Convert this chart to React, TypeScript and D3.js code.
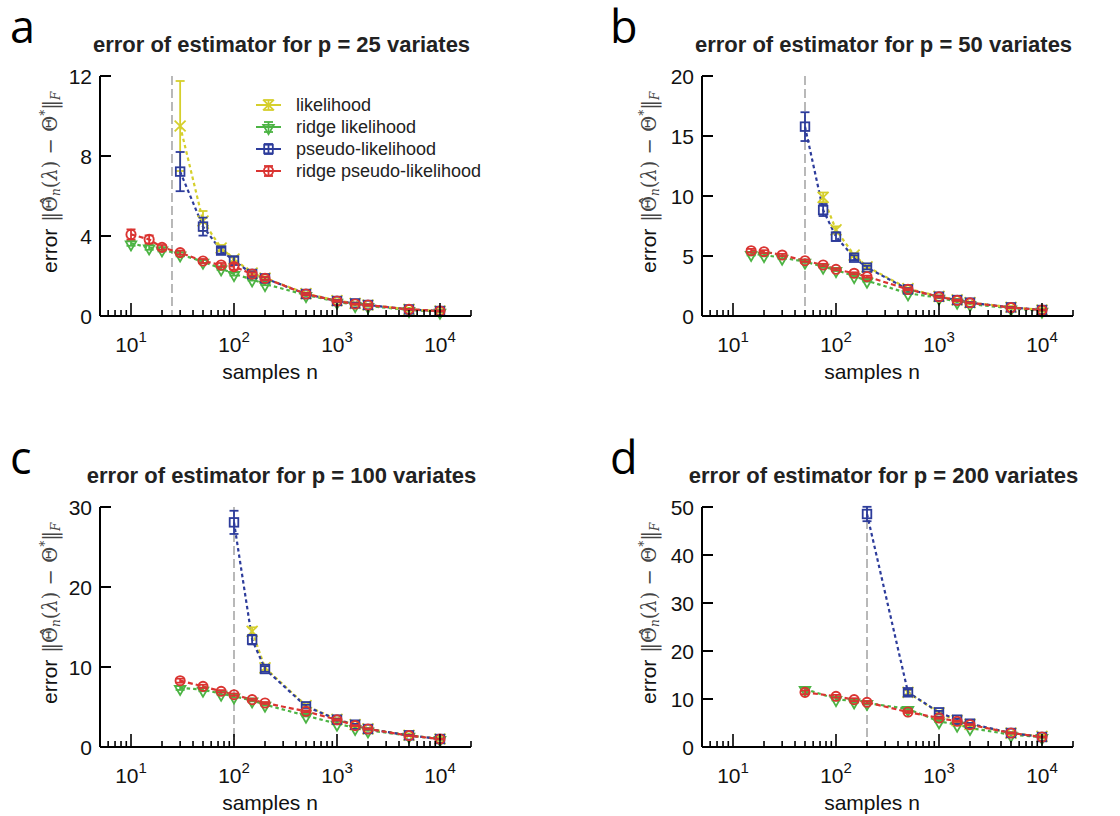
import React from "react";
import * as d3 from "d3";

// sample sizes per panel
const A_N = [10, 15, 20, 30, 50, 75, 100, 150, 200, 500, 1000, 1500, 2000, 5000, 10000];
const A_N_PL = [30, 50, 75, 100, 150, 200, 500, 1000, 1500, 2000, 5000, 10000];
const B_N = [15, 20, 30, 50, 75, 100, 150, 200, 500, 1000, 1500, 2000, 5000, 10000];
const B_N_PL = [50, 75, 100, 150, 200, 500, 1000, 1500, 2000, 5000, 10000];
const B_N_LIK = [75, 100, 150, 200, 500, 1000, 1500, 2000, 5000, 10000];
const C_N = [30, 50, 75, 100, 150, 200, 500, 1000, 1500, 2000, 5000, 10000];
const C_N_PL = [100, 150, 200, 500, 1000, 1500, 2000, 5000, 10000];
const C_N_LIK = [150, 200, 500, 1000, 1500, 2000, 5000, 10000];
const D_N = [50, 100, 150, 200, 500, 1000, 1500, 2000, 5000, 10000];
const D_N_PL = [200, 500, 1000, 1500, 2000, 5000, 10000];
const D_N_LIK = [500, 1000, 1500, 2000, 5000, 10000];

// panel a, p = 25
const A_LIK = [9.5, 4.75, 3.4, 2.85, 2.15, 1.9, 1.12, 0.77, 0.63, 0.55, 0.33, 0.25];
const A_LIK_ERR = [2.25, 0.5, 0.15, 0.12, 0.08, 0.07, 0.05, 0.04, 0.03, 0.03, 0.02, 0.02];
const A_PL = [7.22, 4.47, 3.27, 2.77, 2.1, 1.88, 1.1, 0.75, 0.63, 0.55, 0.33, 0.25];
const A_PL_ERR = [0.98, 0.45, 0.15, 0.2, 0.1, 0.08, 0.06, 0.05, 0.04, 0.03, 0.02, 0.02];
const A_RL = [3.63, 3.43, 3.33, 3.08, 2.72, 2.38, 2.1, 1.83, 1.6, 1.05, 0.72, 0.55, 0.5, 0.3, 0.22];
const A_RL_ERR = [0.12, 0.12, 0.1, 0.1, 0.08, 0.08, 0.08, 0.06, 0.06, 0.05, 0.04, 0.03, 0.03, 0.02, 0.02];
const A_RPL = [4.08, 3.83, 3.43, 3.17, 2.75, 2.55, 2.47, 2.1, 1.88, 1.1, 0.75, 0.6, 0.55, 0.33, 0.25];
const A_RPL_ERR = [0.25, 0.2, 0.12, 0.1, 0.1, 0.1, 0.15, 0.08, 0.08, 0.05, 0.04, 0.03, 0.03, 0.02, 0.02];

// panel b, p = 50
const B_LIK = [9.89, 7.17, 5.08, 4.1, 2.28, 1.63, 1.35, 1.12, 0.73, 0.5];
const B_LIK_ERR = [0.4, 0.3, 0.15, 0.12, 0.08, 0.06, 0.05, 0.04, 0.03, 0.03];
const B_PL = [15.78, 8.83, 6.61, 4.86, 4.03, 2.22, 1.61, 1.33, 1.11, 0.72, 0.5];
const B_PL_ERR = [1.2, 0.5, 0.35, 0.2, 0.15, 0.1, 0.08, 0.06, 0.05, 0.04, 0.03];
const B_RL = [5.17, 5.08, 4.86, 4.53, 4.11, 3.83, 3.33, 2.94, 1.89, 1.53, 1.2, 1.0, 0.64, 0.44];
const B_RL_ERR = [0.12, 0.1, 0.1, 0.1, 0.1, 0.08, 0.08, 0.08, 0.06, 0.05, 0.04, 0.03, 0.03, 0.02];
const B_RPL = [5.44, 5.36, 5.08, 4.61, 4.25, 3.89, 3.56, 3.28, 2.22, 1.6, 1.3, 1.1, 0.7, 0.5];
const B_RPL_ERR = [0.15, 0.12, 0.1, 0.1, 0.1, 0.08, 0.08, 0.08, 0.06, 0.05, 0.04, 0.03, 0.03, 0.02];

// panel c, p = 100
const C_LIK = [14.46, 9.9, 5.17, 3.45, 2.8, 2.27, 1.47, 1.0];
const C_LIK_ERR = [0.5, 0.3, 0.15, 0.1, 0.08, 0.06, 0.04, 0.03];
const C_PL = [28.08, 13.42, 9.75, 5.08, 3.42, 2.79, 2.25, 1.46, 1.0];
const C_PL_ERR = [1.45, 0.6, 0.35, 0.2, 0.12, 0.1, 0.08, 0.05, 0.04];
const C_RL = [7.38, 7.17, 6.67, 6.33, 5.83, 5.29, 3.92, 2.92, 2.38, 2.08, 1.42, 1.0];
const C_RL_ERR = [0.25, 0.2, 0.15, 0.15, 0.12, 0.12, 0.1, 0.08, 0.06, 0.05, 0.04, 0.03];
const C_RPL = [8.29, 7.58, 6.96, 6.54, 5.92, 5.5, 4.46, 3.4, 2.67, 2.25, 1.42, 1.0];
const C_RPL_ERR = [0.25, 0.2, 0.15, 0.15, 0.12, 0.12, 0.1, 0.08, 0.06, 0.05, 0.04, 0.03];

// panel d, p = 200
const D_LIK = [11.4, 7.1, 5.5, 4.7, 2.9, 2.2];
const D_LIK_ERR = [0.6, 0.3, 0.2, 0.15, 0.1, 0.08];
const D_PL = [48.54, 11.39, 7.22, 5.69, 4.86, 2.92, 2.08];
const D_PL_ERR = [1.5, 0.6, 0.3, 0.2, 0.15, 0.1, 0.08];
const D_RL = [12.08, 10.0, 9.51, 9.17, 7.92, 5.35, 4.65, 3.96, 2.57, 2.08];
const D_RL_ERR = [0.4, 0.3, 0.3, 0.25, 0.2, 0.15, 0.12, 0.1, 0.08, 0.06];
const D_RPL = [11.39, 10.56, 9.86, 9.31, 7.29, 6.04, 5.35, 4.65, 2.92, 2.08];
const D_RPL_ERR = [0.4, 0.3, 0.3, 0.25, 0.2, 0.15, 0.12, 0.1, 0.08, 0.06];

const SERIES_NAMES = ["likelihood", "ridge likelihood", "pseudo-likelihood", "ridge pseudo-likelihood"];
const COLORS = ["#d5cf2c", "#4cb444", "#2d3c9b", "#da3431"];
const SHAPES = ["times", "triangle", "square", "circle"];
const Y_MAX = [12, 20, 30, 50];
const Y_TICKS = [[0, 4, 8, 12], [0, 5, 10, 15, 20], [0, 10, 20, 30], [0, 10, 20, 30, 40, 50]];
const P_VALUES = [25, 50, 100, 200];
const LETTERS = ["a", "b", "c", "d"];

const FONT = "'Liberation Sans', Arial, Helvetica, sans-serif";
const W = 371;
const H = 240;

const panels = [
  { left: 100, top: 76, series: [[A_N_PL, A_LIK, A_LIK_ERR], [A_N, A_RL, A_RL_ERR], [A_N_PL, A_PL, A_PL_ERR], [A_N, A_RPL, A_RPL_ERR]] },
  { left: 702, top: 76, series: [[B_N_LIK, B_LIK, B_LIK_ERR], [B_N, B_RL, B_RL_ERR], [B_N_PL, B_PL, B_PL_ERR], [B_N, B_RPL, B_RPL_ERR]] },
  { left: 100, top: 507, series: [[C_N_LIK, C_LIK, C_LIK_ERR], [C_N, C_RL, C_RL_ERR], [C_N_PL, C_PL, C_PL_ERR], [C_N, C_RPL, C_RPL_ERR]] },
  { left: 702, top: 507, series: [[D_N_LIK, D_LIK, D_LIK_ERR], [D_N, D_RL, D_RL_ERR], [D_N_PL, D_PL, D_PL_ERR], [D_N, D_RPL, D_RPL_ERR]] },
];

// draw order: green, yellow, blue, red
const ORDER = [1, 0, 2, 3];

function Marker({ shape, color, x, y }) {
  if (shape === "circle") return <circle cx={x} cy={y} r={4.6} fill="none" stroke={color} strokeWidth={1.9} />;
  if (shape === "square") return <rect x={x - 4.3} y={y - 4.3} width={8.6} height={8.6} fill="none" stroke={color} strokeWidth={1.8} />;
  if (shape === "triangle") {
    const p = d3.symbol().type(d3.symbolTriangle).size(48)();
    return <path d={p} transform={`translate(${x},${y + 1}) rotate(180)`} fill="none" stroke={color} strokeWidth={1.8} />;
  }
  const p = d3.symbol().type(d3.symbolTimes).size(80)();
  return <path d={p} transform={`translate(${x},${y})`} fill="none" stroke={color} strokeWidth={1.8} />;
}

function ErrBar({ color, x, y0, y1 }) {
  return (
    <g stroke={color} strokeWidth={1.8}>
      <line x1={x} x2={x} y1={y0} y2={y1} />
      <line x1={x - 4.5} x2={x + 4.5} y1={y0} y2={y0} />
      <line x1={x - 4.5} x2={x + 4.5} y1={y1} y2={y1} />
    </g>
  );
}

function Panel({ idx }) {
  const cfg = panels[idx];
  const x = d3.scaleLog().domain([5, 20000]).range([0, W]);
  const y = d3.scaleLinear().domain([0, Y_MAX[idx]]).range([H, 0]);
  const line = d3.line<[number, number]>().x((d) => x(d[0])).y((d) => y(d[1]));
  const ticks = x.ticks();
  const decades = [1, 2, 3, 4];
  const p = P_VALUES[idx];

  return (
    <g transform={`translate(${cfg.left},${cfg.top})`} fontFamily={FONT}>
      <text x={idx % 2 ? -92 : -90} y={-33} fontFamily="'Open Sans', sans-serif" fontSize={45} fill="#000">
        {LETTERS[idx]}
      </text>
      <text x={W / 2 - 4} y={-24} textAnchor="middle" fontWeight="bold" fontSize={22} fill="#222">
        {`error of estimator for p = ${p} variates`}
      </text>

      {/* n = p guide */}
      <line x1={x(p)} x2={x(p)} y1={0} y2={H} stroke="#8a8a8a" strokeWidth={1.2} strokeDasharray="9,4" />

      {/* series lines */}
      {ORDER.map((s) => {
        const [ns, vals] = cfg.series[s];
        const pts = ns.map((n, i) => [n, vals[i]] as [number, number]);
        return (
          <path key={`l${s}`} d={line(pts)} fill="none" stroke={COLORS[s]} strokeWidth={2.2}
            strokeDasharray={s === 3 ? "5,3" : "3.5,3"} />
        );
      })}
      {/* markers and error bars */}
      {ORDER.map((s) => {
        const [ns, vals, errs] = cfg.series[s];
        return (
          <g key={`m${s}`}>
            {ns.map((n, i) => (
              <g key={i}>
                <ErrBar color={COLORS[s]} x={x(n)} y0={y(vals[i] + errs[i])} y1={y(vals[i] - errs[i])} />
                <Marker shape={SHAPES[s]} color={COLORS[s]} x={x(n)} y={y(vals[i])} />
              </g>
            ))}
          </g>
        );
      })}

      {/* axes */}
      <line x1={0} x2={W} y1={H} y2={H} stroke="#000" strokeWidth={2} />
      <line x1={0} x2={0} y1={0} y2={H} stroke="#000" strokeWidth={2} />
      {ticks.map((t, i) => {
        const major = Math.abs(Math.log10(t) - Math.round(Math.log10(t))) < 1e-9;
        return <line key={i} x1={x(t)} x2={x(t)} y1={H} y2={H - (major ? 13 : 6)} stroke="#000" strokeWidth={1.6} />;
      })}
      {decades.map((k) => (
        <text key={k} x={x(Math.pow(10, k))} y={H + 36} textAnchor="middle" fontSize={21} fill="#111">
          10<tspan dy={-10} fontSize={15}>{k}</tspan>
        </text>
      ))}
      {Y_TICKS[idx].map((t) => (
        <g key={t}>
          <line x1={0} x2={11} y1={y(t)} y2={y(t)} stroke="#000" strokeWidth={2} />
          <text x={-8} y={y(t) + 7.5} textAnchor="end" fontSize={21} fill="#111">{t}</text>
        </g>
      ))}
      <text x={170} y={H + 63} textAnchor="middle" fontSize={21} fill="#111">samples n</text>
      <text transform={`translate(${idx % 2 ? -46 : -43},${H - 43}) rotate(-90)`} fontSize={21} fill="#111">
        error
        <tspan fontFamily="'DejaVu Serif', serif" fontSize={19.5} fill="#444" dx={7}>
          ‖Θ̂<tspan fontStyle="italic" fontSize={12} dy={3}>n</tspan>
          <tspan dy={-3}>(</tspan><tspan fontStyle="italic">λ</tspan>) − Θ<tspan fontSize={12} dy={-8}>*</tspan>
          <tspan dy={8}>‖</tspan><tspan fontStyle="italic" fontSize={12} dy={3}>F</tspan>
        </tspan>
      </text>

      {idx === 0 && (
        <g>
          {SERIES_NAMES.map((name, s) => {
            const ly = 29 + s * 22;
            return (
              <g key={name}>
                <line x1={156} x2={181} y1={ly} y2={ly} stroke={COLORS[s]} strokeWidth={2} />
                <ErrBar color={COLORS[s]} x={168.5} y0={ly - 5} y1={ly + 5} />
                <Marker shape={SHAPES[s]} color={COLORS[s]} x={168.5} y={ly} />
                <text x={196} y={ly + 6} fontSize={18} fill="#222">{name}</text>
              </g>
            );
          })}
        </g>
      )}
    </g>
  );
}

export default function App() {
  return (
    <div style={{ position: "absolute", left: 0, top: 0 }}>
      <svg width={1120} height={816} style={{ display: "block", background: "#fff" }}>
        {[0, 1, 2, 3].map((i) => (
          <Panel key={i} idx={i} />
        ))}
      </svg>
    </div>
  );
}
